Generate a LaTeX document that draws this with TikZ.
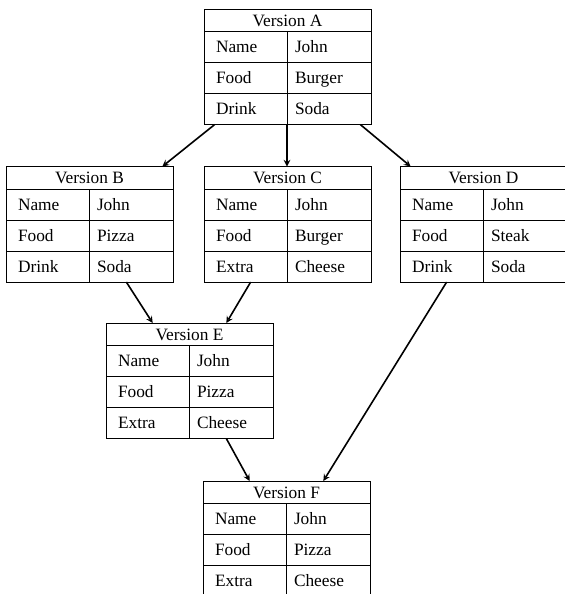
\documentclass[tikz,border=0pt]{standalone}
\usepackage{fontspec}
\setmainfont{Liberation Serif}
\usepackage{tikz}
\usetikzlibrary{arrows}
\usetikzlibrary{positioning}
\tikzstyle{cell} = [draw, rectangle, outer sep=0pt, line width=0.6pt,
        font={\fontsize{13}{15}\selectfont}, text height=10pt, text depth=1.4pt]
\tikzstyle{head} = [cell, minimum width=125.25pt, minimum height=16.9pt, inner sep=0pt]
\tikzstyle{key} = [cell, text width=44.25pt, inner xsep=9pt, inner ysep=0pt,
        minimum height=23.25pt, align=left]
\tikzstyle{val} = [cell, text width=51pt, inner xsep=6pt, inner ysep=0pt,
        minimum height=23.25pt, align=left]
\tikzstyle{link} = [-stealth, line width=1.2pt]
% one version table: name, top left corner, title, three key/value rows
\newcommand{\version}[9]{%
    \node [head, anchor=north west] (#1) at (#2) {#3};
    \node [key, below right=0pt and 0pt of #1.south west] (#1k1) {#4};
    \node [val, right=0pt of #1k1] (#1v1) {#5};
    \node [key, below=0pt of #1k1] (#1k2) {#6};
    \node [val, right=0pt of #1k2] (#1v2) {#7};
    \node [key, below=0pt of #1k2] (#1k3) {#8};
    \node [val, right=0pt of #1k3] (#1v3) {#9};
}
\begin{document}
\begin{tikzpicture}[x=0.75pt, y=-0.75pt]
            \useasboundingbox (0,0) rectangle (565,594);
            \version{A}{204,9}{Version A}{Name}{John}{Food}{Burger}{Drink}{Soda}
            \version{B}{6,166.5}{Version B}{Name}{John}{Food}{Pizza}{Drink}{Soda}
            \version{C}{204,166.5}{Version C}{Name}{John}{Food}{Burger}{Extra}{Cheese}
            \version{D}{400,166.5}{Version D}{Name}{John}{Food}{Steak}{Drink}{Soda}
            \version{E}{106,323}{Version E}{Name}{John}{Food}{Pizza}{Extra}{Cheese}
            \version{F}{203,481}{Version F}{Name}{John}{Food}{Pizza}{Extra}{Cheese}
            \draw [link] ([xshift=8pt]Ak3.south west) -- ([xshift=-8pt]B.north east);
            \draw [link] (Ak3.south east) -- (Ak3.south east |- C.north);
            \draw [link] ([xshift=-8pt]Av3.south east) -- ([xshift=8pt]D.north west);
            \draw [link] ([xshift=-35pt]Bv3.south east) -- ([xshift=35pt]E.north west);
            \draw [link] ([xshift=35pt]Ck3.south west) -- ([xshift=-35pt]E.north east);
            \draw [link] ([xshift=-35pt]Ev3.south east) -- ([xshift=35pt]F.north west);
            \draw [link] ([xshift=35pt]Dk3.south west) -- ([xshift=-35pt]F.north east);
        \end{tikzpicture}
\end{document}
